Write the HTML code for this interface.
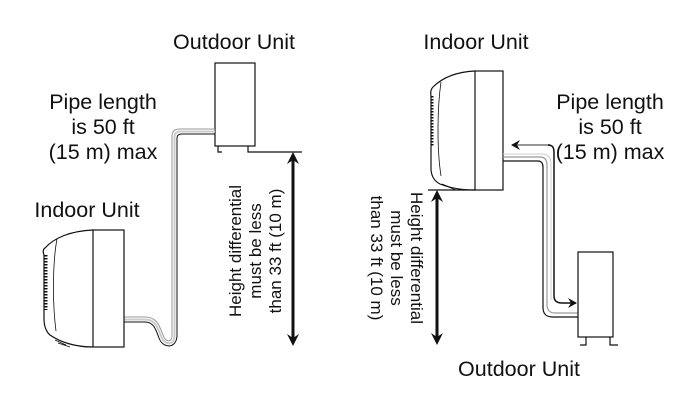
<!DOCTYPE html>
<html><head><style>
html,body{margin:0;padding:0;background:#fff}
svg{display:block}
text{font-family:"Liberation Sans",sans-serif;font-size:21.5px;fill:#111}
</style></head><body>
<svg width="694" height="401" viewBox="0 0 694 401" xmlns="http://www.w3.org/2000/svg">
<defs>
<marker id="ah" markerWidth="10" markerHeight="10" refX="8" refY="5" orient="auto" markerUnits="userSpaceOnUse">
<path d="M0,0 L9,5 L0,10 L3,5 Z" fill="#111"/></marker>
</defs>
<g fill="none" stroke="#111" stroke-width="1.2">
<rect x="215" y="63" width="40" height="83" fill="#fff"/>
<path d="M218,146 V152 H222 M248,146 V152 H302"/>
<path d="M124,317 H145 C158,317 160,328 163,335 C166,343 172,343 172,335 V136 C172,131 175,129 180,129 H215" stroke="#999" stroke-width="1"/>
<path d="M124,322 H145 C154,322 156,330 159,338 C163,349 177,349 177,335 V138 C177,135 179,134 182,134 H215" stroke="#111" stroke-width="1"/>
<path d="M124,319.5 H145 C156,319.5 158,329 161,336 C165,346 174.5,346 174.5,335 V137 C174.5,133 177,131.5 181,131.5 H215" stroke="#ccc" stroke-width="2"/>
<rect x="93" y="230" width="31" height="117"/>
<path d="M93,230 C70,231 54,238 45,248 Q42,250 44,255 L44,318 Q44,330 50,335 C60,342 75,347 93,347"/>
<path d="M57,239 C53,260 52,300 56,331" stroke-width="0.8"/>
<path d="M46,255 V310" stroke-width="3" stroke-dasharray="1.5 1.5"/>
<path d="M55,340 L66,345 M58,343 L70,347" stroke-width="0.8"/>
<line x1="293" y1="160" x2="293" y2="338" stroke-width="3"/>
<path d="M293,152 L287,164 L293,160 L299,164 Z M293,346 L287,334 L293,338 L299,334 Z" fill="#111" stroke="none"/>

<rect x="475" y="71" width="28" height="119"/>
<path d="M475,71 C455,72 442,78 433,87 Q430,90 431,96 L431,170 Q432,180 440,184 C450,188 462,190 475,190"/>
<path d="M441,82 C437,110 437,150 441,176" stroke-width="0.8"/>
<path d="M432,96 V146" stroke-width="3" stroke-dasharray="1.5 1.5"/>
<path d="M428,190 H475"/>
<path d="M442,184 L452,188 M446,186 L456,190" stroke-width="0.8"/>
<path d="M503,157 H540 C545,157 547,160 547,165 V305 C547,310 550,313 555,313 H580" stroke="#999"/>
<path d="M503,161 H538 C541,161 543,163 543,167 V307 C543,314 546,317 553,317 H580" stroke="#111"/>
<path d="M503,154 H542 C548,154 551,158 551,164 V300" stroke="#ccc" stroke-width="1"/>
<path d="M550,145 H512" stroke="#777" stroke-width="1.5" marker-end="url(#ah)"/>
<path d="M548,145 C553,145 554,148 554,153 V296 C554,301 557,303 562,303 H576" stroke="#111" stroke-width="1.5" marker-end="url(#ah)"/>
<rect x="578" y="252" width="35" height="85" fill="#fff"/>
<path d="M580,345 H586 V337 M610,337 V345 H618"/>
<line x1="437" y1="198" x2="437" y2="337" stroke-width="3"/>
<path d="M437,190 L431,202 L437,198 L443,202 Z M437,345 L431,333 L437,337 L443,333 Z" fill="#111" stroke="none"/>
</g>
<text x="234" y="49" text-anchor="middle">Outdoor Unit</text>
<text x="103" y="109" text-anchor="middle">Pipe length</text>
<text x="103" y="134" text-anchor="middle">is 50 ft</text>
<text x="103" y="159" text-anchor="middle">(15 m) max</text>
<text x="87" y="217" text-anchor="middle">Indoor Unit</text>
<g transform="translate(254,251) rotate(-90)">
<text x="0" y="-13" text-anchor="middle" style="font-size:17px">Height differential</text>
<text x="0" y="7" text-anchor="middle" style="font-size:17px">must be less</text>
<text x="0" y="27" text-anchor="middle" style="font-size:17px">than 33 ft  (10 m)</text>
</g>
<text x="476" y="49" text-anchor="middle">Indoor Unit</text>
<text x="610" y="109" text-anchor="middle">Pipe length</text>
<text x="610" y="134" text-anchor="middle">is 50 ft</text>
<text x="610" y="159" text-anchor="middle">(15 m) max</text>
<g transform="translate(398,258) rotate(90)">
<text x="0" y="-13" text-anchor="middle" style="font-size:17px">Height differential</text>
<text x="0" y="7" text-anchor="middle" style="font-size:17px">must be less</text>
<text x="0" y="27" text-anchor="middle" style="font-size:17px">than 33 ft  (10 m)</text>
</g>
<text x="519" y="376" text-anchor="middle">Outdoor Unit</text>
</svg>
</body></html>
